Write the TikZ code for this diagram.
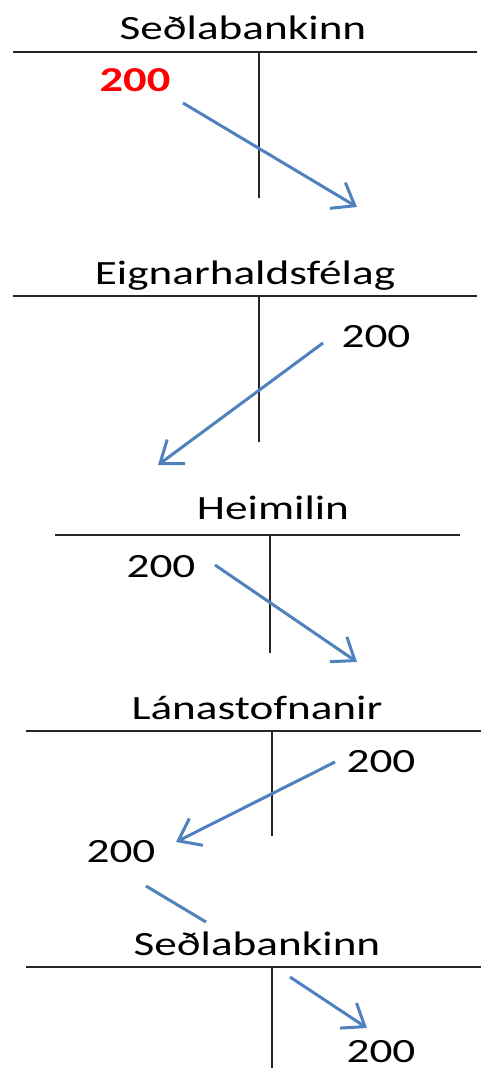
\documentclass[tikz,border=0pt]{standalone}
\usepackage{fontspec}
\setmainfont[FakeStretch=1.33]{Carlito}
\usetikzlibrary{arrows.meta}
\definecolor{flowblue}{HTML}{4F81BD}
\tikzset{
    account/.style = {
        font=\fontsize{17}{20}\selectfont,
        inner sep=0pt,
        anchor=base,
        },
    amount/.style = {
        font=\fontsize{17}{20}\selectfont,
        inner sep=0pt,
        anchor=base,
        },
    new amount/.style = {
        red,
        font=\fontsize{17.5}{20}\selectfont\bfseries,
        },
    tline/.style = {
        draw=black!85,
        line width=1pt,
        },
    flow/.style = {
        draw=flowblue,
        line width=1.5pt,
        -{Straight Barb[length=10pt,width=15pt]},
        },
}
\begin{document}
\begin{tikzpicture}[x=0.5pt,y=-0.5pt]
    \useasboundingbox (0,0) rectangle (481,1068);

    % accounts
    \node[account] (S1) at (243,40) {Seðlabankinn};
    \draw[tline] (13,52) -- (477,52) (259,52) -- (259,198);
    \node[account] (E) at (245,285) {Eignarhaldsfélag};
    \draw[tline] (13,296) -- (477,296) (259,296) -- (259,442);
    \node[account] (H) at (273,519) {Heimilin};
    \draw[tline] (55,535) -- (460,535) (270,535) -- (270,653);
    \node[account] (L) at (257,719) {Lánastofnanir};
    \draw[tline] (26,731) -- (481,731) (272,731) -- (272,836);
    \node[account] (S2) at (257,955) {Seðlabankinn};
    \draw[tline] (26,967) -- (481,967) (272,967) -- (272,1068);

    % amounts
    \node[amount, new amount] (a1) at (135,92) {200};
    \node[amount] (a2) at (376,348) {200};
    \node[amount] (a3) at (161,577) {200};
    \node[amount] (a4) at (381,772) {200};
    \node[amount] (a5) at (121,862) {200};
    \node[amount] (a6) at (381,1062) {200};

    % flows
    \coordinate (f1s) at (183,103);
    \coordinate (f1e) at (357,207);
    \coordinate (f2s) at (323,343);
    \coordinate (f2e) at (158,465);
    \coordinate (f3s) at (215,565);
    \coordinate (f3e) at (357,662);
    \coordinate (f4s) at (335,762);
    \coordinate (f4e) at (176,842);
    \coordinate (f5s) at (146,886);
    \coordinate (f5e) at (206,922);
    \coordinate (f6s) at (290,977);
    \coordinate (f6e) at (367,1028);

    \draw[flow] (f1s) -- (f1e);
    \draw[flow] (f2s) -- (f2e);
    \draw[flow] (f3s) -- (f3e);
    \draw[flow] (f4s) -- (f4e);
    \draw[flow,-] (f5s) -- (f5e);
    \draw[flow] (f6s) -- (f6e);
\end{tikzpicture}
\end{document}
